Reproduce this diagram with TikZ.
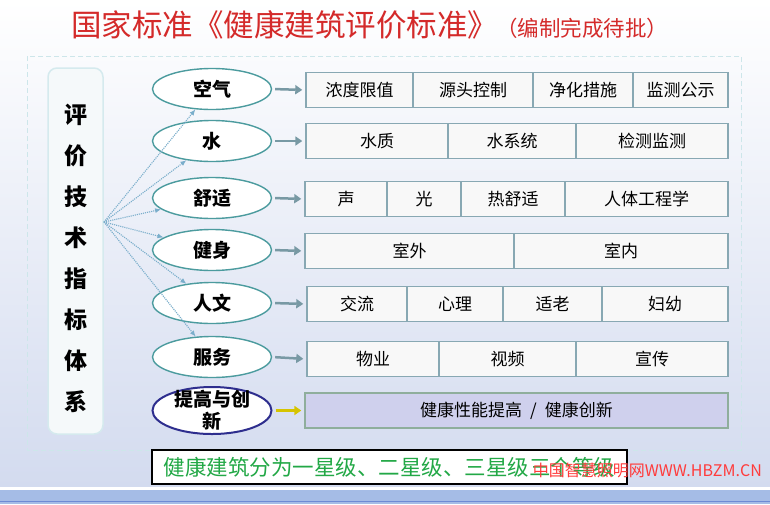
\documentclass[tikz,border=0pt]{standalone}
\usepackage{fontspec}
\setmainfont{Noto Sans CJK SC}
\usepackage{xcolor}
\usepackage{tikz}
\usetikzlibrary{shapes,arrows,positioning,calc,arrows.meta}

\definecolor{titlered}{HTML}{D42A2A}
\definecolor{markred}{HTML}{FF3B3B}
\definecolor{tealline}{HTML}{4B9B9E}
\definecolor{navyline}{HTML}{2E2E8E}
\definecolor{cellline}{HTML}{88A8B3}
\definecolor{cellfill}{HTML}{F8F8F8}
\definecolor{lavender}{HTML}{CFD0ED}
\definecolor{sageline}{HTML}{8FAE9C}
\definecolor{arrowgray}{HTML}{7899A4}
\definecolor{arrowyellow}{HTML}{D6C400}
\definecolor{dotblue}{HTML}{7AAECB}
\definecolor{sideline}{HTML}{D5EAEE}
\definecolor{sidefill}{HTML}{F5F9FA}
\definecolor{framecyan}{HTML}{CDE6EA}
\definecolor{starsgreen}{HTML}{22A846}
\definecolor{bgblue}{HTML}{D3DBEF}
\definecolor{barblue}{HTML}{A5BCE6}
\definecolor{bardark}{HTML}{6D8AD4}

\begin{document}
\begin{tikzpicture}[x=1pt,y=-1pt,
    topic/.style={ellipse, draw=tealline, line width=1.4pt, fill=white, minimum width=119pt, minimum height=41pt, inner sep=0pt, font=\bfseries\fontsize{19}{20}\selectfont},
    cell/.style={rectangle, draw=cellline, line width=1.4pt, fill=cellfill, minimum height=35pt, inner sep=0pt, font=\fontsize{17}{18}\selectfont},
    feed/.style={-{Triangle[length=7pt,width=9pt]}, line width=2.5pt, draw=arrowgray, shorten <=3pt, shorten >=3pt},
    spread/.style={-{Latex[length=6pt,width=5pt]}, densely dotted, line width=1.1pt, draw=dotblue}]
    \useasboundingbox (0,0) rectangle (770,504);
    \shade[top color=white, bottom color=bgblue] (0,0) rectangle (770,487);
    \fill[white] (0,487) rectangle (770,490);
    \fill[barblue] (0,490) rectangle (770,504);
    \draw[bardark] (0,501) -- (770,501);

    \node[font=\fontsize{30.5}{31}\selectfont, text=titlered, anchor=west, inner sep=0pt] (title) at (71,25) {国家标准《健康建筑评价标准》};
    \node[font=\fontsize{21.5}{22}\selectfont, text=titlered, anchor=west, inner sep=0pt] (subtitle) at (496,28) {（编制完成待批）};

    \draw[framecyan, line width=1pt, dash pattern=on 5pt off 3pt] (27,56) rectangle (741,450);

    \node[draw=sideline, fill=sidefill, line width=1.5pt, rounded corners=9pt, minimum width=55pt, minimum height=366pt] (side) at (75.5,251) {};
    \node[font=\bfseries\fontsize{23}{41}\selectfont, align=center, inner sep=0pt] (sidetext) at (75.5,258.5) {评\\价\\技\\术\\指\\标\\体\\系};
    \coordinate (hub) at (104,222);

    \foreach \i/\y/\t in {1/89/空气, 2/141/水, 3/198/舒适, 4/250/健身, 5/303/人文, 6/357/服务}
        \node[topic] (e\i) at (212,\y) {\t};
    \node[topic, draw=navyline, line width=2pt, minimum height=47pt] (e7) at (212,410.5) {};
    \node[font=\bfseries\fontsize{19}{22}\selectfont, align=center, inner sep=0pt] (e7text) at (212,410.5) {提高与创\\新};

    \foreach \r/\y/\cells in {
        1/90/{306/413/浓度限值,413/533/源头控制,533/633/净化措施,633/728/监测公示},
        2/141/{306/448/水质,448/576/水系统,576/728/检测监测},
        3/199/{305/387/声,387/461/光,461/565/热舒适,565/728/人体工程学},
        4/251/{305/514/室外,514/728/室内},
        5/304/{307/407/交流,407/503/心理,503/602/适老,602/728/妇幼},
        6/359/{307/439/物业,439/576/视频,576/728/宣传}}
        \foreach \a/\b/\t [count=\k] in \cells
            \node[cell, minimum width={(\b-\a)*1pt}] (r\r-\k) at ({(\a+\b)/2},\y) {\t};
    \node[cell, fill=lavender, draw=sageline, minimum width=423pt] (r7-1) at (516.5,410.5) {健康性能提高\hspace{8pt}/\hspace{8pt}健康创新};

    \foreach \i in {1,...,6} {
        \draw[spread] (hub) -- (e\i);
        \draw[feed] (e\i.east) -- (r\i-1.west);
    }
    \draw[feed, draw=arrowyellow] (e7.east) -- (r7-1.west);

    \node[draw=black, line width=1.4pt, fill=white, minimum width=475pt, minimum height=34pt, text=starsgreen, font=\fontsize{21.5}{22}\selectfont] (note) at (389.5,467) {健康建筑分为一星级、二星级、三星级三个等级};
    \node[anchor=east, text=markred, font=\fontsize{16}{17}\selectfont, inner sep=0pt] (mark) at (762,470) {中国智慧照明网WWW.HBZM.CN};
\end{tikzpicture}
\end{document}
